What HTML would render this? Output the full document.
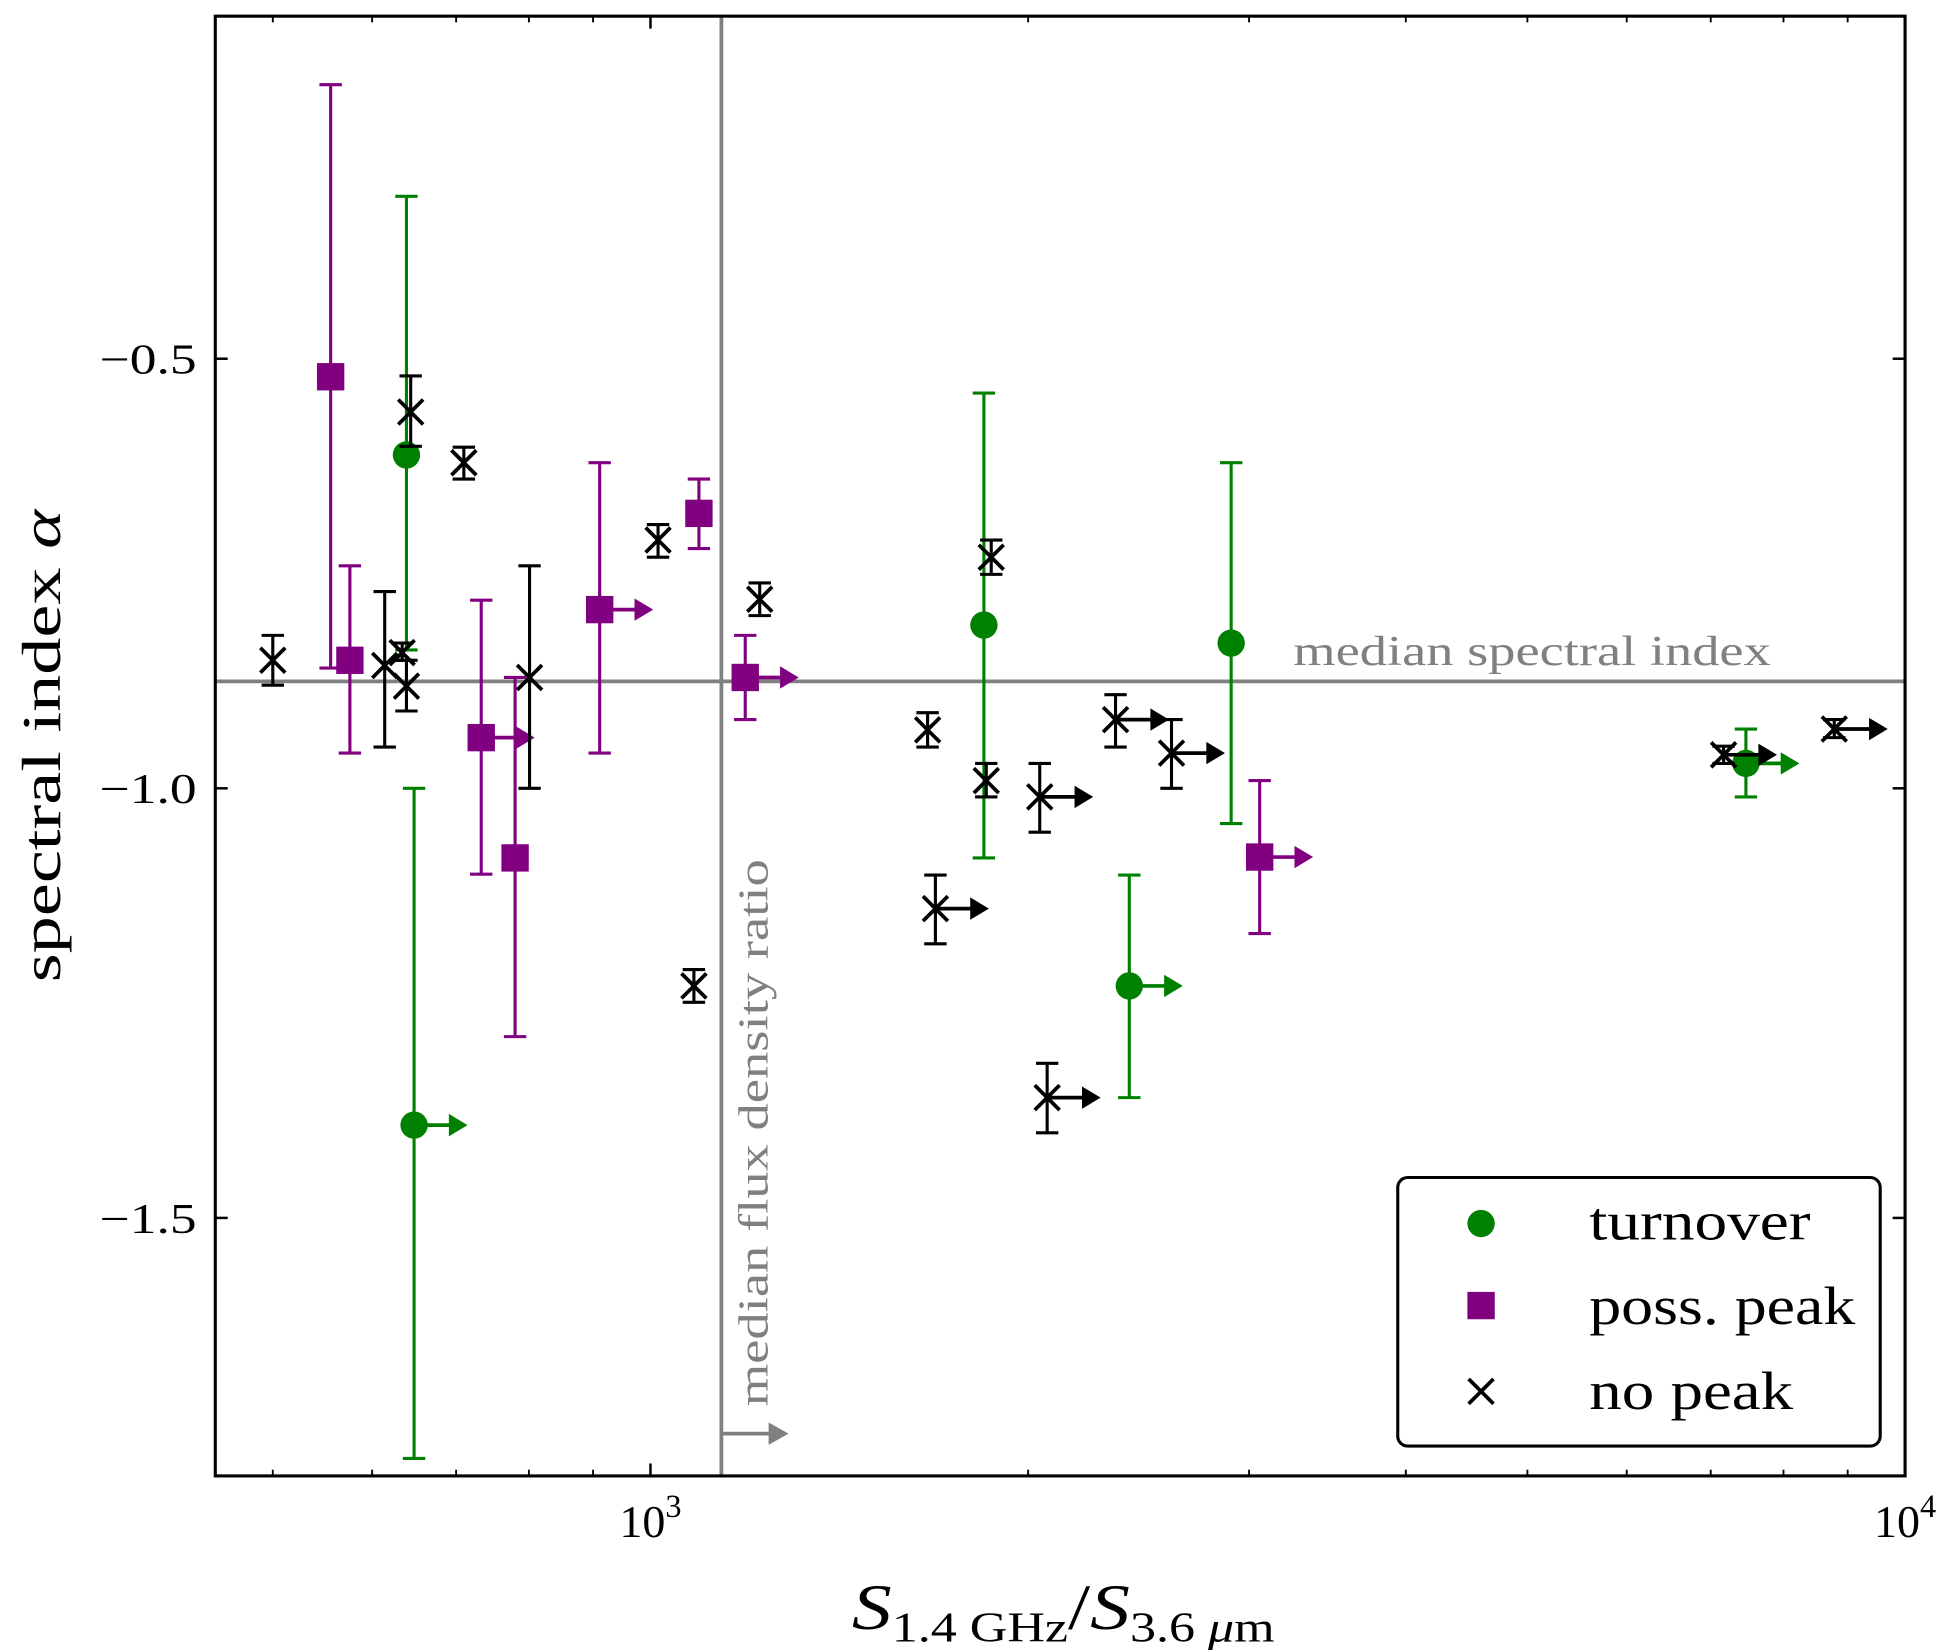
<!DOCTYPE html>
<html><head><meta charset="utf-8"><style>
html,body{margin:0;padding:0;background:#fff;}
svg{display:block;font-family:"Liberation Serif",serif;}
</style></head><body>
<svg id="chart" width="1950" height="1650" viewBox="0 0 1568 1327">
<g id="plot"></g>
</svg>
<script>
const turnX=[639,648,1844,2903,2408,7467];
const turnA=[-0.612,-1.392,-0.810,-0.831,-1.230,-0.971];
const turnHi=[-0.311,-1.0,-0.540,-0.621,-1.101,-0.931];
const turnLo=[-0.839,-1.780,-1.081,-1.041,-1.360,-1.010];
const turnLim=[0,1,0,0,1,1];
const possX=[556,576,733,780,911,1093,1190,3059];
const possA=[-0.521,-0.851,-0.941,-1.081,-0.792,-0.680,-0.871,-1.080];
const possHi=[-0.181,-0.741,-0.781,-0.871,-0.621,-0.640,-0.822,-0.991];
const possLo=[-0.860,-0.959,-1.100,-1.289,-0.959,-0.721,-0.920,-1.169];
const possLim=[0,0,1,0,1,0,1,1];
const noX=[500,644,614,634,639,710,801,1014,1083,1222,1663,1687,1869,1852,2043,2071,2348,2602,7167,8781];
const noA=[-0.851,-0.562,-0.857,-0.842,-0.881,-0.621,-0.871,-0.711,-1.230,-0.780,-0.932,-1.140,-0.731,-0.991,-1.010,-1.360,-0.920,-0.959,-0.961,-0.931];
const noHi=[-0.822,-0.520,-0.771,-0.831,-0.851,-0.603,-0.741,-0.693,-1.211,-0.761,-0.912,-1.101,-0.711,-0.971,-0.971,-1.320,-0.891,-0.920,-0.951,-0.920];
const noLo=[-0.880,-0.602,-0.952,-0.851,-0.910,-0.640,-1.0,-0.731,-1.249,-0.799,-0.952,-1.181,-0.751,-1.010,-1.051,-1.401,-0.952,-1.0,-0.971,-0.941];
const noLim=[0,0,0,0,0,0,0,0,0,0,0,1,0,0,1,1,1,1,1,1];
const yTicks=[-0.5,-1.0,-1.5];
const yTickLabels=["\u22120.5","\u22121.0","\u22121.5"];
const medianX=1139, medianA=-0.8755;

const L=173,R=1532,T=13,B=1187;
const sx=v=>523+(Math.log10(v)-3)*1009;
const sy=a=>634+(-1-a)*691;
const NS="http://www.w3.org/2000/svg";
const g=document.getElementById('plot');
function mk(tag,at,parent){const e=document.createElementNS(NS,tag);for(const k in at)e.setAttribute(k,at[k]);(parent||g).appendChild(e);return e;}

let e=mk('line',{x1:sx(medianX),x2:sx(medianX),y1:T,y2:B,stroke:'#808080','stroke-width':3});


e=mk('line',{x1:L,x2:R,y1:sy(medianA),y2:sy(medianA),stroke:'#808080','stroke-width':3});


const ma=mk('g',{});


mk('line',{x1:sx(medianX),x2:sx(medianX)+40,y1:1153,y2:1153,stroke:'#808080','stroke-width':3},ma);
mk('polygon',{points:`${sx(medianX)+38},${1153-9} ${sx(medianX)+54},1153 ${sx(medianX)+38},${1153+9}`,fill:'#808080'},ma);

e=mk('text',{x:1040,y:535,fill:'#808080','font-size':34,textLength:384,lengthAdjust:'spacingAndGlyphs'});
e.textContent='median spectral index';


e=mk('text',{x:0,y:0,fill:'#808080','font-size':34,textLength:440,lengthAdjust:'spacingAndGlyphs',transform:'translate(617,1131) rotate(-90)'});
e.textContent='median flux density ratio';



function errbar(x,hi,lo,color,grp){
  const px=sx(x);
  mk('line',{x1:px,x2:px,y1:sy(hi),y2:sy(lo),stroke:color,'stroke-width':2.5},grp);
  mk('line',{x1:px-9,x2:px+9,y1:sy(hi),y2:sy(hi),stroke:color,'stroke-width':2.5},grp);
  mk('line',{x1:px-9,x2:px+9,y1:sy(lo),y2:sy(lo),stroke:color,'stroke-width':2.5},grp);
}
function series(X,A,HI,LO,LIM,color,kind,name){
  for(let i=0;i<X.length;i++){
    const grp=mk('g',{});
    
    
    const px=sx(X[i]),py=sy(A[i]);
    errbar(X[i],HI[i],LO[i],color,grp);
    if(LIM[i]){
      mk('line',{x1:px,x2:px+30,y1:py,y2:py,stroke:color,'stroke-width':3},grp);
      mk('polygon',{points:`${px+28},${py-9} ${px+43},${py} ${px+28},${py+9}`,fill:color},grp);
    }
    if(kind==='c')mk('circle',{cx:px,cy:py,r:11,fill:color},grp);
    else if(kind==='s')mk('rect',{x:px-11,y:py-11,width:22,height:22,fill:color},grp);
    else{mk('path',{d:`M${px-10},${py-10}L${px+10},${py+10}M${px-10},${py+10}L${px+10},${py-10}`,stroke:color,'stroke-width':3},grp);}
  }
}
series(possX,possA,possHi,possLo,possLim,'#800080','s','poss-peak');
series(turnX,turnA,turnHi,turnLo,turnLim,'#008000','c','turnover');
series(noX,noA,noHi,noLo,noLim,'#000','x','no-peak');

e=mk('rect',{x:L,y:T,width:R-L,height:B-T,fill:'none',stroke:'#000','stroke-width':2.5});


yTicks.forEach((v,i)=>{
  const y=sy(v);
  mk('line',{x1:L,x2:L+10,y1:y,y2:y,stroke:'#000','stroke-width':2});
  mk('line',{x1:R-10,x2:R,y1:y,y2:y,stroke:'#000','stroke-width':2});
  const t=mk('text',{x:158,y:y+12,'text-anchor':'end','font-size':34,textLength:78,lengthAdjust:'spacingAndGlyphs'});
  t.textContent=yTickLabels[i];
  
  
});
[1000,10000].forEach(v=>{
  const x=sx(v);
  mk('line',{x1:x,x2:x,y1:B,y2:B-10,stroke:'#000','stroke-width':2});
  mk('line',{x1:x,x2:x,y1:T,y2:T+10,stroke:'#000','stroke-width':2});
  const t=mk('text',{x:x,y:1236,'text-anchor':'middle','font-size':37});
  t.innerHTML='10<tspan dy="-16" font-size="26">'+Math.round(Math.log10(v))+'</tspan>';
  
  
});
[500,600,700,800,900,2000,3000,4000,5000,6000,7000,8000,9000].forEach(v=>{
  const x=sx(v);
  mk('line',{x1:x,x2:x,y1:B,y2:B-5,stroke:'#000','stroke-width':1.5});
  mk('line',{x1:x,x2:x,y1:T,y2:T+5,stroke:'#000','stroke-width':1.5});
});
e=mk('text',{x:0,y:0,'font-size':44,'text-anchor':'middle',textLength:380,lengthAdjust:'spacingAndGlyphs',transform:'translate(48,600) rotate(-90)'});
e.innerHTML='spectral index <tspan font-style="italic">α</tspan>';


e=mk('text',{x:685,y:1310,'font-size':52,textLength:340,lengthAdjust:'spacingAndGlyphs'});
e.innerHTML='<tspan font-style="italic">S</tspan><tspan dy="10" font-size="34">1.4 GHz</tspan><tspan dy="-10">/</tspan><tspan font-style="italic">S</tspan><tspan dy="10" font-size="34">3.6 <tspan font-style="italic">μ</tspan>m</tspan>';



const lg=mk('g',{});


mk('rect',{x:1124,y:947,width:388,height:216,rx:8,fill:'#fff',stroke:'#000','stroke-width':2.5},lg);
mk('circle',{cx:1191,cy:984,r:11,fill:'#008000'},lg);
mk('rect',{x:1180,y:1039,width:22,height:22,fill:'#800080'},lg);
mk('path',{d:'M1181,1109L1201,1129M1181,1129L1201,1109',stroke:'#000','stroke-width':3},lg);
[['turnover',984,178],['poss. peak',1052,214],['no peak',1120,164]].forEach(([s,y,w])=>{
  const t=mk('text',{x:1278,y:y+13,'font-size':43,textLength:w,lengthAdjust:'spacingAndGlyphs'},lg);
  t.textContent=s;
  
  
});
</script>
</body></html>
